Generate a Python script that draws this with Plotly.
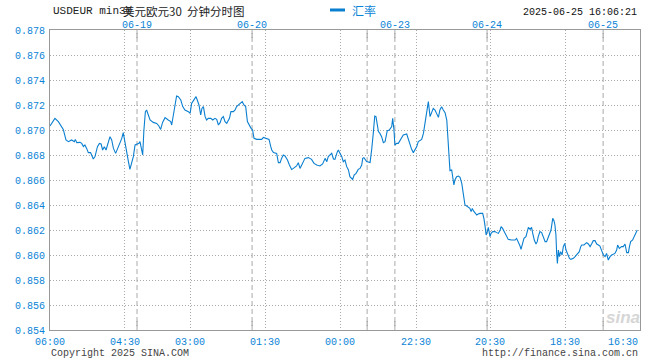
import plotly.graph_objects as go

# ---------------- data ----------------
# x: bar position along the session axis (0 = left edge, 240 = right edge)
bar_pos = [
    # 06-18 .. 06-20
    0, 2.0, 3.4, 4.8, 5.4, 6.5, 7.5, 8.8, 9.9, 10.3, 10.9, 12.2, 12.9, 13.6, 14.2, 14.9, 15.6, 16.5, 17.6, 18.3,
    19.3, 20.1, 20.8, 21.4, 22.1, 22.8, 23.7, 24.4, 25.1, 25.8, 26.7, 27.5, 28.5, 29.2, 29.8, 30.5, 31.2, 31.9, 32.5, 33.2,
    33.9, 34.6, 35.3, 36.2, 36.6, 37.3, 37.7, 38.2, 38.8, 39.3, 40.0, 40.7, 42.0, 43.4, 44.3, 45.0, 45.8, 46.8, 48.1, 49.1,
    49.5, 50.2, 50.9, 51.5, 52.2, 53.2, 54.0, 54.9, 56.3, 57.0, 57.6, 58.6, 59.4, 59.9, 60.6, 61.3, 61.8, 62.4, 63.1, 63.7,
    64.4, 65.4, 66.2, 67.1, 67.8, 68.5, 69.2, 69.8, 70.5, 71.2, 71.9, 73.0, 73.6, 74.6, 75.3, 75.9, 77.3, 78.2, 78.9, 79.6,
    80.3, 81.0, 81.8, 82.4, 83.0,
    # 06-20 .. 06-24
    84.1, 86.1, 86.8, 88.1, 89.1, 89.8, 90.2, 90.9, 92.2, 92.9, 93.6, 94.2, 94.9, 95.6, 96.6, 97.4, 98.3, 99.0, 100.3, 101.0,
    101.7, 102.4, 103.7, 105.1, 106.4, 107.4, 108.5, 109.8, 110.9, 111.9, 112.6, 113.2, 113.9, 114.6, 115.3, 115.9, 116.9, 117.3, 118.0, 118.7,
    119.3, 120.0, 120.7, 121.4, 122.0, 122.7, 123.1, 123.7, 124.5, 125.4, 126.1, 126.8, 127.2, 127.7, 128.1, 128.8, 130.2, 130.5, 130.9, 131.5,
    132.1, 132.6, 132.9, 133.6, 134.2, 134.9, 135.6, 136.3, 136.7, 137.2, 138.0, 139.0, 139.4, 139.9, 140.3, 141.0, 141.7, 142.4, 143.1, 143.7,
    145.1, 145.8, 146.5, 147.1, 147.8, 148.5, 149.2, 149.8, 150.5, 151.2, 151.9, 152.5, 153.2, 153.9, 154.6, 155.3, 155.9, 156.6, 157.3, 158.0,
    158.6, 159.3,
    # 06-24 .. 06-25
    160.0, 160.7, 161.4, 161.6, 162.0, 162.4, 162.7, 163.4, 163.8, 164.3, 164.7, 165.4, 166.1, 166.8, 167.5, 167.9, 168.4, 168.8, 169.5, 170.2,
    170.8, 171.3, 171.8, 172.2, 172.9, 173.6, 174.2, 174.9, 176.0, 176.5, 177.0, 177.4, 177.9, 178.3, 179.0, 179.4, 180.1, 181.0, 181.7, 182.4,
    183.1, 183.5, 184.1, 184.8, 185.5, 186.4, 187.8, 189.2, 189.8, 190.5, 191.2, 191.6, 192.3, 192.8, 193.6, 194.2, 194.6, 195.3, 195.9, 196.3,
    197.0, 197.7, 198.2, 198.6, 199.3, 200.0, 200.7, 201.4, 202.0, 202.7, 203.4, 203.8, 204.5, 205.0, 205.4, 205.8, 206.1, 206.4, 206.8, 207.2,
    207.7, 208.3, 208.8, 209.4, 209.9, 210.6, 211.3, 211.9, 212.9, 213.6, 214.2, 214.9, 215.3, 215.9, 216.3, 217.2, 218.3, 219.0, 219.7, 220.3,
    221.0, 221.7, 222.4, 223.1, 223.7, 224.4, 225.1, 225.8, 226.4, 227.1, 227.8, 228.5, 229.2, 229.8, 230.5, 230.9, 231.6, 232.5, 233.2, 233.9,
    234.6, 235.3, 235.7, 236.2, 237.0, 237.7, 238.4, 238.9,
]

rate = [
    0.87032, 0.87093, 0.87067, 0.87027, 0.87005, 0.86920, 0.86907, 0.86920, 0.86907, 0.86925, 0.86899, 0.86901, 0.86893, 0.86867, 0.86880, 0.86853, 0.86819, 0.86819, 0.86768, 0.86787,
    0.86867, 0.86893, 0.86888, 0.86840, 0.86867, 0.86840, 0.86907, 0.86947, 0.86920, 0.86853, 0.86813, 0.86853, 0.86893, 0.86933, 0.86979, 0.86893, 0.86827, 0.86747, 0.86685, 0.86747,
    0.86787, 0.86880, 0.86888, 0.86893, 0.86907, 0.86853, 0.86800, 0.87000, 0.87147, 0.87160, 0.87120, 0.87080, 0.87061, 0.87053, 0.87032, 0.87005, 0.87061, 0.87099, 0.87080, 0.87067,
    0.87040, 0.87120, 0.87227, 0.87272, 0.87267, 0.87240, 0.87187, 0.87160, 0.87147, 0.87133, 0.87213, 0.87240, 0.87267, 0.87240, 0.87200, 0.87120, 0.87173, 0.87187, 0.87107, 0.87080,
    0.87093, 0.87093, 0.87080, 0.87093, 0.87085, 0.87040, 0.87059, 0.87093, 0.87107, 0.87067, 0.87053, 0.87093, 0.87147, 0.87147, 0.87160, 0.87187, 0.87213, 0.87227, 0.87200, 0.87187,
    0.87067, 0.87040, 0.87013, 0.87000, 0.86933,
    0.86925, 0.86925, 0.86941, 0.86933, 0.86925, 0.86867, 0.86840, 0.86819, 0.86813, 0.86739, 0.86739, 0.86773, 0.86800, 0.86792, 0.86760, 0.86720, 0.86685, 0.86693, 0.86712, 0.86739,
    0.86693, 0.86720, 0.86773, 0.86779, 0.86765, 0.86733, 0.86720, 0.86712, 0.86728, 0.86773, 0.86747, 0.86787, 0.86800, 0.86813, 0.86768, 0.86765, 0.86827, 0.86840, 0.86813, 0.86787,
    0.86747, 0.86760, 0.86707, 0.86680, 0.86627, 0.86613, 0.86605, 0.86640, 0.86653, 0.86685, 0.86693, 0.86720, 0.86773, 0.86779, 0.86765, 0.86747, 0.86739, 0.86773, 0.86853, 0.86973,
    0.87112, 0.87107, 0.87067, 0.86987, 0.86973, 0.86947, 0.86899, 0.86907, 0.86947, 0.86995, 0.87000, 0.87027, 0.87093, 0.87005, 0.86880, 0.86893, 0.86893, 0.86920, 0.86947, 0.86960,
    0.86968, 0.86920, 0.86880, 0.86845, 0.86819, 0.86845, 0.86867, 0.86907, 0.86920, 0.86925, 0.86973, 0.87053, 0.87173, 0.87227, 0.87107, 0.87147, 0.87173, 0.87160, 0.87133, 0.87101,
    0.87160, 0.87187,
    0.87160, 0.87139, 0.87080, 0.87000, 0.86907, 0.86747, 0.86675, 0.86680, 0.86621, 0.86560, 0.86600, 0.86627, 0.86632, 0.86621, 0.86573, 0.86520, 0.86467, 0.86400, 0.86392, 0.86381,
    0.86373, 0.86347, 0.86373, 0.86355, 0.86333, 0.86320, 0.86328, 0.86333, 0.86333, 0.86293, 0.86227, 0.86160, 0.86187, 0.86221, 0.86147, 0.86173, 0.86187, 0.86187, 0.86179, 0.86173,
    0.86200, 0.86227, 0.86213, 0.86187, 0.86160, 0.86125, 0.86120, 0.86120, 0.86133, 0.86107, 0.86072, 0.86045, 0.86107, 0.86133, 0.86147, 0.86187, 0.86221, 0.86205, 0.86221, 0.86179,
    0.86120, 0.86088, 0.86107, 0.86147, 0.86187, 0.86179, 0.86147, 0.86107, 0.86107, 0.86147, 0.86173, 0.86200, 0.86293, 0.86275, 0.86240, 0.86160, 0.86013, 0.85933, 0.86040, 0.85987,
    0.86027, 0.86000, 0.86067, 0.86093, 0.86040, 0.86000, 0.85973, 0.85965, 0.85973, 0.85987, 0.86000, 0.86013, 0.86027, 0.86067, 0.86080, 0.86080, 0.86099, 0.86088, 0.86067, 0.86088,
    0.86115, 0.86115, 0.86088, 0.86080, 0.86072, 0.86035, 0.86000, 0.85987, 0.86013, 0.85960, 0.85987, 0.86000, 0.86008, 0.86013, 0.86040, 0.86080, 0.86053, 0.86067, 0.86067, 0.86088,
    0.86019, 0.86019, 0.86067, 0.86107, 0.86120, 0.86147, 0.86187, 0.86200,
]
assert len(bar_pos) == len(rate)

time_tick_pos = [0, 30.5, 57.0, 87.5, 118.0, 148.9, 179.0, 209.5, 240]
time_tick_text = ["06:00", "04:30", "03:00", "01:30", "00:00", "22:30", "20:30", "18:30", "16:30"]

day_break_pos = [35.4, 82.2, 129.0, 140.3, 177.8, 225.0]
day_label_pos = [35.4, 82.2, 140.3, 177.8, 225.0]
day_label_text = ["06-19", "06-20", "06-23", "06-24", "06-25"]

y_min, y_max, y_step = 0.854, 0.878, 0.002

title_left = "USDEUR min30"
title_cn = "美元欧元30  分钟分时图"
series_name = "汇率"
timestamp = "2025-06-25 16:06:21"
copyright_text = "Copyright 2025 SINA.COM"
url_text = "http://finance.sina.com.cn"

# ---------------- styles ----------------
BLUE = "#0a84d6"
LINE = "#0a7fd0"
FRAME = "#999999"
GRID = "#aaaaaa"
MONO = "Liberation Mono, DejaVu Sans Mono, monospace"
CJK = "Noto Sans CJK SC"

fig = go.Figure()
fig.add_trace(go.Scatter(x=bar_pos, y=rate, mode="lines", name=series_name,
                         line=dict(color=LINE, width=1.1), hoverinfo="skip"))

fig.update_layout(
    width=660, height=360,
    margin=dict(l=50, r=20, t=30, b=30, pad=0, autoexpand=False),
    paper_bgcolor="white", plot_bgcolor="white",
    showlegend=False,
    font=dict(family=MONO, size=10, color=BLUE),
)
fig.update_xaxes(
    range=[0, 240], tickmode="array", tickvals=time_tick_pos[1:-1],
    showticklabels=False, ticks="", automargin=False,
    showgrid=True, gridcolor=GRID, gridwidth=1, griddash="1px,2px",
    showline=True, linecolor=FRAME, linewidth=1, mirror=True, zeroline=False,
)
fig.update_yaxes(
    range=[y_min, y_max], tickmode="linear", tick0=y_min, dtick=y_step,
    tickformat=".3f", tickfont=dict(family=MONO, size=10, color=BLUE),
    ticks="", ticklabelstandoff=2, automargin=False,
    showgrid=True, gridcolor=GRID, gridwidth=1, griddash="1px,2px",
    showline=True, linecolor=FRAME, linewidth=1, mirror=True, zeroline=False,
)

shapes = []
for xp in day_break_pos:
    shapes.append(dict(type="line", xref="x", yref="paper", x0=xp, x1=xp, y0=0, y1=1,
                       line=dict(color=GRID, width=1, dash="5px,3px"), layer="below"))
    shapes.append(dict(type="line", xref="x", yref="paper", x0=xp, x1=xp, y0=0.973, y1=0.99,
                       line=dict(color=FRAME, width=1)))
    shapes.append(dict(type="line", xref="x", yref="paper", x0=xp, x1=xp, y0=0.013, y1=0.03,
                       line=dict(color=FRAME, width=1)))
# legend swatch
shapes.append(dict(type="line", xref="paper", yref="paper", x0=(330 - 50) / 590, x1=(345 - 50) / 590,
                   y0=1.0667, y1=1.0667, line=dict(color=LINE, width=3)))
fig.update_layout(shapes=shapes)


def px_ann(x, y, text, anchor, font):
    # x, y in page pixels (from top-left)
    return dict(x=(x - 50) / 590, y=(330 - y) / 300, xref="paper", yref="paper", text=text,
                showarrow=False, xanchor=anchor, yanchor="middle", font=font)


ann = []
for xp, txt in zip(day_label_pos, day_label_text):
    ann.append(dict(x=xp, y=(330 - 25.5) / 300, xref="x", yref="paper", text=txt, showarrow=False,
                    xanchor="center", yanchor="middle", font=dict(family=MONO, size=10, color=BLUE)))
for i, (xp, txt) in enumerate(zip(time_tick_pos, time_tick_text)):
    anchor = "right" if i == len(time_tick_pos) - 1 else "center"
    ann.append(dict(x=xp, y=-0.04, xref="x", yref="paper", text=txt, showarrow=False,
                    xanchor=anchor, yanchor="middle", font=dict(family=MONO, size=10, color=BLUE)))
ann += [
    px_ann(51, 11.5, title_left, "left", dict(family=MONO, size=11, color="#222222")),
    px_ann(121, 11, title_cn, "left", dict(family=CJK, size=11.5, color="#222222")),
    px_ann(350, 10, series_name, "left", dict(family=CJK, size=12, color=BLUE)),
    px_ann(639, 12.5, timestamp, "right", dict(family=MONO, size=10, color="#111111")),
    px_ann(49, 353, copyright_text, "left", dict(family=MONO, size=10, color="#444444")),
    px_ann(640, 353, url_text, "right", dict(family=MONO, size=10, color="#444444")),
    px_ann(623, 317, "sina", "center", dict(family="Liberation Sans", size=17, color="#d6d6d6",
                                             weight="bold", style="italic")),
]
fig.update_layout(annotations=ann)

fig.write_html("out.html", config={"displayModeBar": False},
               post_script="document.body.style.margin='0';document.body.style.overflow='hidden';")
